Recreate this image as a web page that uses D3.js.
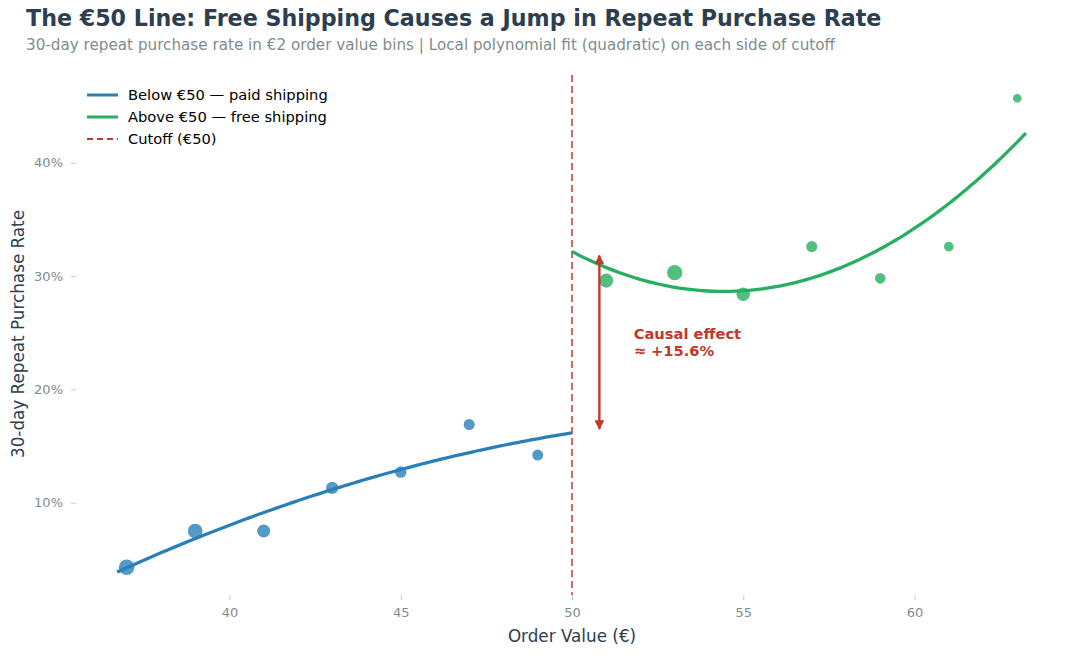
<!DOCTYPE html>
<html>
<head>
<meta charset="utf-8">
<script src="https://cdn.jsdelivr.net/npm/d3@7"></script>
<style>
  body { margin: 0; background: #fff; }
  svg text { font-family: "DejaVu Sans", sans-serif; }
</style>
</head>
<body>
<div id="chart"></div>
<script>
// binned data: order value bin centre, repeat rate (%), observations in bin
const binsBelow = [37, 39, 41, 43, 45, 47, 49];
const rateBelow = [4.3, 7.5, 7.5, 11.3, 12.7, 16.9, 14.2];
const countBelow = [260, 230, 180, 160, 140, 130, 130];

const binsAbove = [51, 53, 55, 57, 59, 61, 63];
const rateAbove = [29.6, 30.3, 28.4, 32.6, 29.8, 32.6, 45.7];
const countAbove = [210, 250, 190, 130, 120, 100, 80];

const cutoff = 50;
const fitRangeBelow = [36.72, 50];
const fitRangeAbove = [50, 63.25];
const xTicks = [40, 45, 50, 55, 60];
const yTicks = [10, 20, 30, 40];

const W = 1080, H = 655;
const C = { blue: '#2980b9', green: '#27ae60', red: '#c0392b', dark: '#2c3e50', grey: '#7f8c8d' };

/* ---
 * Helper: weighted quadratic least squares around x0, returns a function of x
 */
function quadFit(xs, ys, ws, x0) {
  const S = [[0, 0, 0], [0, 0, 0], [0, 0, 0]], T = [0, 0, 0];
  xs.forEach((x, i) => {
    const u = x - x0, v = [1, u, u * u];
    for (let r = 0; r < 3; r++) {
      T[r] += ws[i] * v[r] * ys[i];
      for (let c = 0; c < 3; c++) S[r][c] += ws[i] * v[r] * v[c];
    }
  });
  // gaussian elimination
  for (let k = 0; k < 3; k++) {
    for (let r = k + 1; r < 3; r++) {
      const f = S[r][k] / S[k][k];
      for (let c = k; c < 3; c++) S[r][c] -= f * S[k][c];
      T[r] -= f * T[k];
    }
  }
  const b = [0, 0, 0];
  for (let r = 2; r >= 0; r--) {
    let s = T[r];
    for (let c = r + 1; c < 3; c++) s -= S[r][c] * b[c];
    b[r] = s / S[r][r];
  }
  return (x) => { const u = x - x0; return b[0] + b[1] * u + b[2] * u * u; };
}

const svg = d3.select('#chart').append('svg').attr('width', W).attr('height', H);

const x = d3.scaleLinear().domain([35.52, 64.54]).range([76, 1070]);
const y = d3.scaleLinear().domain([1.85, 47.75]).range([595, 75]);
const r = d3.scaleSqrt().domain([0, 260]).range([0, 7.8]);

// title
svg.append('text').attr('x', 26).attr('y', 26).attr('font-size', 22.2).attr('font-weight', 'bold')
   .attr('fill', C.dark).text('The €50 Line: Free Shipping Causes a Jump in Repeat Purchase Rate');
svg.append('text').attr('x', 26).attr('y', 50).attr('font-size', 15.2).attr('fill', C.grey)
   .text('30-day repeat purchase rate in €2 order value bins | Local polynomial fit (quadratic) on each side of cutoff');

// axes
const xAxis = svg.append('g').attr('transform', 'translate(0,595)')
  .call(d3.axisBottom(x).tickValues(xTicks).tickSize(5).tickPadding(8));
const yAxis = svg.append('g').attr('transform', 'translate(76,0)')
  .call(d3.axisLeft(y).tickValues(yTicks).tickSize(5).tickPadding(8).tickFormat(d => d + '%'));
[xAxis, yAxis].forEach(g => {
  g.select('.domain').remove();
  g.selectAll('line').attr('stroke', '#c8cccf');
  g.selectAll('text').attr('fill', C.grey).attr('font-size', 13).attr('font-family', '"DejaVu Sans", sans-serif');
});

svg.append('text').attr('x', 572).attr('y', 642).attr('text-anchor', 'middle').attr('font-size', 16.8)
   .attr('fill', C.dark).text('Order Value (€)');
svg.append('text').attr('transform', 'translate(24,334) rotate(-90)').attr('text-anchor', 'middle')
   .attr('font-size', 16.8).attr('fill', C.dark).text('30-day Repeat Purchase Rate');

// cutoff line
svg.append('line').attr('x1', x(cutoff)).attr('x2', x(cutoff)).attr('y1', 75).attr('y2', 595)
   .attr('stroke', C.red).attr('stroke-opacity', 0.75).attr('stroke-width', 2).attr('stroke-dasharray', '7,4');

// scatter points
function drawPoints(xs, ys, ns, color) {
  svg.append('g').selectAll('circle').data(xs).enter().append('circle')
     .attr('cx', d => x(d)).attr('cy', (d, i) => y(ys[i])).attr('r', (d, i) => r(ns[i]))
     .attr('fill', color).attr('fill-opacity', 0.8);
}
drawPoints(binsBelow, rateBelow, countBelow, C.blue);
drawPoints(binsAbove, rateAbove, countAbove, C.green);

// fitted curves
const fitBelow = quadFit(binsBelow, rateBelow, countBelow, cutoff);
const fitAbove = quadFit(binsAbove, rateAbove, countAbove, cutoff);
const line = d3.line().x(d => x(d[0])).y(d => y(d[1]));
function drawFit(fn, range, color) {
  const pts = d3.range(0, 101).map(i => { const v = range[0] + (range[1] - range[0]) * i / 100; return [v, fn(v)]; });
  svg.append('path').attr('d', line(pts)).attr('fill', 'none').attr('stroke', color).attr('stroke-width', 3.3);
}
drawFit(fitBelow, fitRangeBelow, C.blue);
drawFit(fitAbove, fitRangeAbove, C.green);

// causal effect arrow
const defs = svg.append('defs');
defs.append('marker').attr('id', 'head').attr('viewBox', '0 0 10 10').attr('refX', 9).attr('refY', 5)
    .attr('markerWidth', 4).attr('markerHeight', 4).attr('orient', 'auto-start-reverse')
    .append('path').attr('d', 'M0,0 L10,5 L0,10 z').attr('fill', C.red);
const ax = 50.8;
svg.append('line').attr('x1', x(ax)).attr('x2', x(ax))
   .attr('y1', y(fitAbove(cutoff)) + 4).attr('y2', y(fitBelow(cutoff)) - 4)
   .attr('stroke', C.red).attr('stroke-width', 2.4)
   .attr('marker-start', 'url(#head)').attr('marker-end', 'url(#head)');
const lbl = svg.append('text').attr('x', x(51.8)).attr('y', 339).attr('font-size', 14.7)
   .attr('font-weight', 'bold').attr('fill', C.red);
lbl.append('tspan').attr('x', x(51.8)).text('Causal effect');
lbl.append('tspan').attr('x', x(51.8)).attr('dy', 17).text('≈ +15.6%');

// legend
const legend = svg.append('g').attr('transform', 'translate(87,95)');
const items = [
  { label: 'Below €50 — paid shipping', color: C.blue, dash: null },
  { label: 'Above €50 — free shipping', color: C.green, dash: null },
  { label: 'Cutoff (€50)', color: C.red, dash: '6,4' }
];
items.forEach((it, i) => {
  const g = legend.append('g').attr('transform', `translate(0,${i * 22})`);
  g.append('line').attr('x1', 0).attr('x2', 31).attr('stroke', it.color)
   .attr('stroke-width', it.dash ? 2 : 3).attr('stroke-dasharray', it.dash);
  g.append('text').attr('x', 41).attr('y', 5).attr('font-size', 14.7).attr('fill', '#000').text(it.label);
});
</script>
</body>
</html>
